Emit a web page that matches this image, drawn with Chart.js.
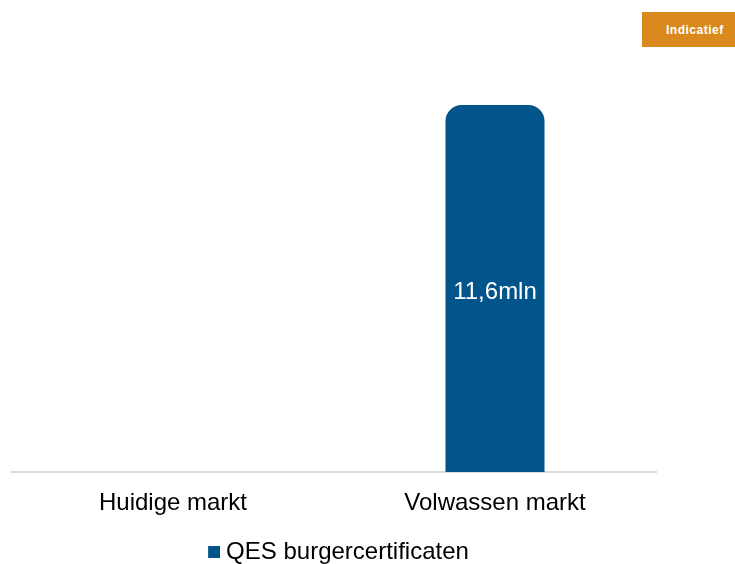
<!DOCTYPE html>
<html>
<head>
<meta charset="utf-8">
<script src="https://cdn.jsdelivr.net/npm/chart.js@4"></script>
<style>
  html, body { margin: 0; padding: 0; background: #ffffff; }
  #wrap { position: relative; width: 735px; height: 564px; }
  #badge {
    position: absolute; left: 642px; top: 12px; width: 93px; height: 35px;
    background: #DA8A1C; color: #ffffff;
    font: bold 12px "Liberation Sans", Arial, sans-serif; letter-spacing: 0.5px;
    line-height: 37px; padding-left: 24px; box-sizing: border-box;
  }
</style>
</head>
<body>
<div id="wrap">
  <canvas id="c" width="735" height="564"></canvas>
  <div id="badge">Indicatief</div>
</div>
<script>
const categories = ["Huidige markt", "Volwassen markt"];
const seriesName = "QES burgercertificaten";
const seriesValues = [0, 11.6];
const valueLabels = ["", "11,6mln"];

const FONT = '"Liberation Sans", Arial, sans-serif';
const BAR_COLOR = '#02558B';

// legend marker: 12x12 square placed at the right of a 27px-wide transparent image
const marker = document.createElement('canvas');
marker.width = 27; marker.height = 12;
(function () {
  const m = marker.getContext('2d');
  m.fillStyle = BAR_COLOR;
  m.fillRect(15, 0, 12, 12);
})();

const valueLabelPlugin = {
  id: 'valueLabels',
  afterDatasetsDraw(chart) {
    const ctx = chart.ctx;
    const meta = chart.getDatasetMeta(0);
    ctx.save();
    ctx.fillStyle = '#ffffff';
    ctx.font = '24px ' + FONT;
    ctx.textAlign = 'center';
    ctx.textBaseline = 'middle';
    meta.data.forEach((bar, i) => {
      if (!valueLabels[i]) return;
      const p = bar.getProps(['x', 'y', 'base'], true);
      ctx.fillText(valueLabels[i], p.x, (p.y + p.base) / 2 + 4);
    });
    ctx.restore();
  }
};

new Chart(document.getElementById('c'), {
  type: 'bar',
  data: {
    labels: categories,
    datasets: [{
      label: seriesName,
      data: seriesValues,
      backgroundColor: BAR_COLOR,
      borderWidth: 0,
      borderRadius: { topLeft: 16, topRight: 16, bottomLeft: 0, bottomRight: 0 },
      borderSkipped: 'bottom',
      barPercentage: 0.3075,
      categoryPercentage: 1.0
    }]
  },
  options: {
    responsive: false,
    animation: false,
    devicePixelRatio: 1,
    layout: { padding: { top: 105, left: 12, right: 79, bottom: 0 } },
    plugins: {
      legend: {
        position: 'bottom',
        fullSize: false,
        maxHeight: 24,
        labels: {
          font: { size: 24, family: FONT },
          color: '#000000',
          usePointStyle: true,
          pointStyle: marker,
          boxWidth: 15,
          boxHeight: 12,
          padding: 0
        }
      },
      tooltip: { enabled: false }
    },
    scales: {
      x: {
        grid: { display: false, drawTicks: false },
        border: { display: true, color: '#D9D9D9', width: 2 },
        ticks: { font: { size: 24, family: FONT }, color: '#000000', padding: 17, maxRotation: 0 },
        afterFit(scale) { scale.height = 68; }
      },
      y: {
        display: false,
        min: 0,
        max: 11.6
      }
    }
  },
  plugins: [valueLabelPlugin]
});
</script>
</body>
</html>
